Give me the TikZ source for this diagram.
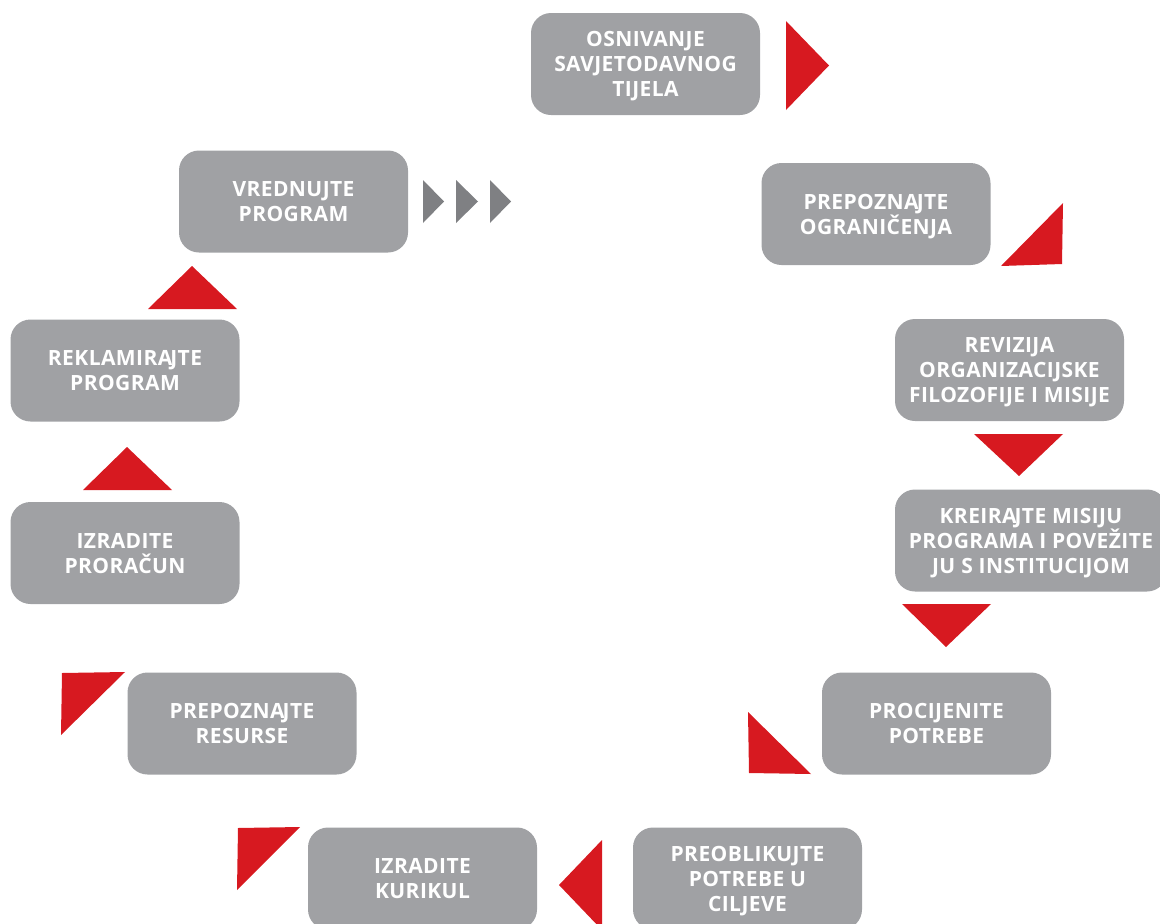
\documentclass[tikz,border=0pt]{standalone}
\usepackage{fontspec}
\setmainfont{Open Sans}[LetterSpace=2]
\newcommand\ajk{A\kern-2pt J}
\definecolor{boxgray}{HTML}{A0A1A4}
\definecolor{arrred}{HTML}{D71920}
\definecolor{arrgray}{HTML}{7F8083}
\tikzset{
  stepbox/.style={fill=boxgray, rounded corners=20pt, minimum width=229pt, minimum height=102pt,
    inner sep=0pt, text depth=-4pt, text=white, align=center, font=\fontsize{21}{25}\selectfont\bfseries},
  redtri/.style={fill=arrred},
  graytri/.style={fill=arrgray}
}
\begin{document}
\begin{tikzpicture}[x=1pt,y=-1pt]
\useasboundingbox (0,0) rectangle (1160,924);
\node[stepbox] (a) at (645.5,64) {OSNIVANJE\\SAVJETODAVNOG\\TIJELA};
\node[stepbox] (b) at (876,214) {PREPOZN\ajk TE\\OGRANIČENJA};
\node[stepbox] (c) at (1009.5,370) {REVIZIJA\\ORGANIZACIJSKE\\FILOZOFIJE I MISIJE};
\node[stepbox, minimum width=272pt] (d) at (1031,540.5) {KREIR\ajk TE MISIJU\\PROGRAMA I POVEŽITE\\JU S INSTITUCIJOM};
\node[stepbox] (e) at (936.5,723.5) {PROCIJENITE\\POTREBE};
\node[stepbox] (f) at (747.5,878.5) {PREOBLIKUJTE\\POTREBE U\\CILJEVE};
\node[stepbox] (g) at (422.5,878.5) {IZRADITE\\KURIKUL};
\node[stepbox] (h) at (242,723.5) {PREPOZN\ajk TE\\RESURSE};
\node[stepbox] (i) at (125,553) {IZRADITE\\PRORAČUN};
\node[stepbox] (j) at (125,370.5) {REKLAMIR\ajk TE\\PROGRAM};
\node[stepbox] (k) at (293.5,201.5) {VREDNUJTE\\PROGRAM};
% red arrows
\fill[redtri] (786,21) -- (829,65.5) -- (786,110) -- cycle;
\fill[redtri] (1001,266) -- (1063,203) -- (1062,264) -- cycle;
\fill[redtri] (974,434) -- (1063,434) -- (1019,476) -- cycle;
\fill[redtri] (902,604) -- (991,604) -- (946,647) -- cycle;
\fill[redtri] (748,712) -- (811,774) -- (749,773) -- cycle;
\fill[redtri] (602,840) -- (559,885) -- (602,930) -- cycle;
\fill[redtri] (238,828) -- (300,827) -- (237,890) -- cycle;
\fill[redtri] (62,673) -- (125,672) -- (61,735) -- cycle;
\fill[redtri] (83,490) -- (172,490) -- (127,447) -- cycle;
\fill[redtri] (148,309) -- (237,309) -- (192,266) -- cycle;
% gray arrows
\fill[graytri] (423,180) -- (444,201.5) -- (423,223) -- cycle;
\fill[graytri] (456,180) -- (478,201.5) -- (456,223) -- cycle;
\fill[graytri] (490,180) -- (511,201.5) -- (490,223) -- cycle;
\end{tikzpicture}
\end{document}
